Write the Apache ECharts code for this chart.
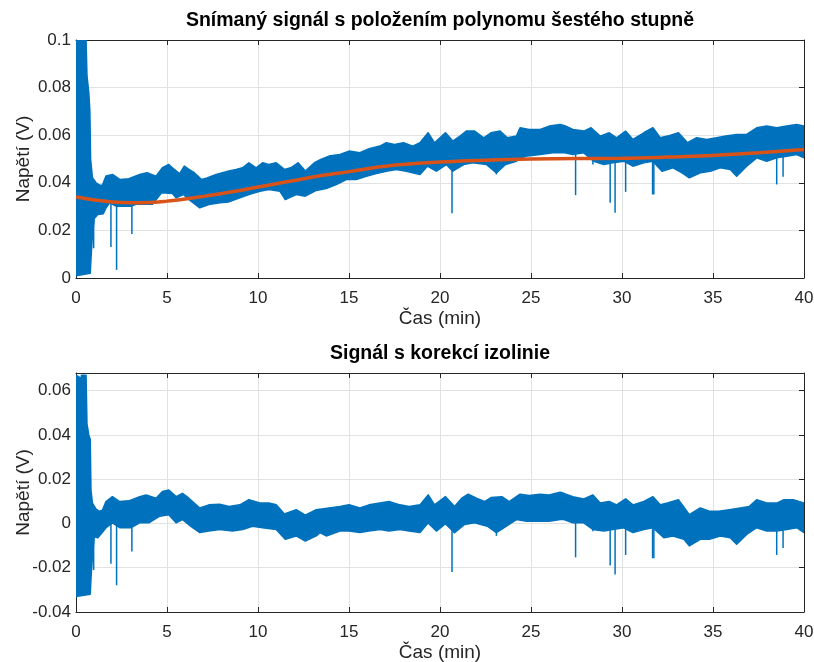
<!DOCTYPE html>
<html>
<head>
<meta charset="utf-8">
<script src="https://cdn.jsdelivr.net/npm/echarts@6/dist/echarts.min.js"></script>
<style>html,body{margin:0;padding:0;background:#fff}#c{width:814px;height:662px}</style>
</head>
<body>
<div id="c"></div>
<script>
// ---------- Data ----------
const xTicks = [0, 5, 10, 15, 20, 25, 30, 35, 40];
const y1Ticks = [0, 0.02, 0.04, 0.06, 0.08, 0.1];
const y2Ticks = [-0.04, -0.02, 0, 0.02, 0.04, 0.06];

// Raw signal, upper envelope (top panel)
const rawUpT = [0,0.2,0.25,0.3,0.55,0.6,0.7,0.76,0.8,0.9,1.1,1.3,1.45,1.65,2.0,2.4,2.9,3.5,3.9,4.4,4.75,5.1,5.4,5.7,5.95,6.2,6.5,6.9,7.2,7.7,8.05,8.4,8.8,9.15,9.5,9.9,10.25,10.6,11.0,11.45,11.8,12.2,12.6,13.1,13.45,13.9,14.5,15.0,15.6,16.1,16.7,17.05,17.5,18.0,18.5,18.9,19.35,19.7,20.3,20.7,21.1,21.45,21.9,22.4,22.8,23.3,23.7,24.2,24.4,24.9,25.5,26.0,26.6,26.85,27.3,27.9,28.3,28.8,29.3,29.7,30.2,30.6,31.2,31.7,32.1,32.5,33.1,33.6,34.1,34.65,35.2,35.7,36.3,36.85,37.4,37.95,38.5,39.05,39.6,40];
const rawUpV = [0.1,0.1,0.096,0.1,0.1,0.085,0.078,0.07,0.05,0.0421,0.04,0.039,0.039,0.0428,0.0435,0.0414,0.0417,0.0435,0.0442,0.0428,0.0463,0.0477,0.0456,0.0438,0.047,0.0456,0.0442,0.0414,0.042,0.0435,0.0442,0.0449,0.0456,0.0463,0.0484,0.0463,0.0484,0.0477,0.0484,0.0456,0.0463,0.0484,0.0449,0.0484,0.0498,0.0512,0.0519,0.0533,0.0526,0.0543,0.0554,0.0568,0.0561,0.0568,0.0554,0.0568,0.061,0.0568,0.061,0.0575,0.0596,0.0617,0.0617,0.0589,0.061,0.0617,0.0589,0.0596,0.0631,0.0624,0.0624,0.0638,0.0645,0.064,0.0624,0.0617,0.0631,0.0596,0.061,0.0589,0.0617,0.0582,0.061,0.0631,0.0589,0.0596,0.061,0.0568,0.0589,0.0582,0.0589,0.0596,0.0603,0.0603,0.0631,0.0638,0.0631,0.0638,0.0645,0.0638];
// Raw signal, lower envelope (top panel)
const rawLoT = [0,0.78,0.82,0.9,1.0,1.2,1.5,1.65,1.85,2.2,3.0,3.3,4.2,4.7,5.3,5.5,5.9,6.2,6.8,7.3,7.9,8.4,9.0,9.5,10.1,10.6,11.2,11.5,12.1,12.6,13.2,13.75,14.3,14.85,15.4,15.95,16.5,17.05,17.6,18.15,18.9,19.3,19.8,20.35,20.7,21.3,21.8,22.55,23.1,23.6,24.2,24.7,25.5,26.2,26.85,27.3,27.9,28.45,29.0,29.5,30.1,30.6,31.2,31.7,32.2,32.8,33.3,33.7,34.3,34.85,35.4,35.95,36.3,36.85,37.4,37.95,38.5,39.05,39.6,40];
const rawLoV = [0.001,0.002,0.008,0.018,0.025,0.0267,0.027,0.0295,0.0316,0.0302,0.0302,0.031,0.031,0.0358,0.0355,0.0337,0.0351,0.033,0.0295,0.0309,0.0316,0.032,0.0337,0.0351,0.0365,0.0372,0.0365,0.033,0.0351,0.0344,0.0368,0.0376,0.0393,0.0414,0.0414,0.0428,0.0439,0.0449,0.0456,0.0449,0.0435,0.047,0.0449,0.0477,0.0449,0.0477,0.0484,0.0477,0.0442,0.0477,0.0491,0.0512,0.0519,0.0526,0.0526,0.0519,0.0526,0.0491,0.0477,0.0484,0.0491,0.047,0.0484,0.0491,0.0449,0.0463,0.0442,0.0421,0.0442,0.0449,0.0463,0.0456,0.0428,0.047,0.0505,0.0491,0.0505,0.0512,0.0519,0.0505];
// Raw signal, isolated downward spikes: time, bottom, top
const rawSpikeT = [0.97,1.92,2.23,3.07,20.66,23.1,27.45,28.4,29.35,29.62,30.2,31.68,31.75,38.5,38.85];
const rawSpikeLo = [0.0125,0.013,0.0034,0.0185,0.0272,0.0435,0.0348,0.0477,0.0316,0.0274,0.0362,0.0351,0.0351,0.0393,0.0425];
const rawSpikeHi = [0.035,0.034,0.034,0.034,0.048,0.05,0.054,0.054,0.052,0.052,0.052,0.052,0.052,0.054,0.054];

// 6th-order polynomial baseline (orange)
const polyT = [0,1,2,3,4,5,6,7,8,9,10,11,12,13,15,17,20,22.5,25,27.5,30,32.5,35,37.5,40];
const polyV = [0.0340,0.0328,0.0319,0.0316,0.0317,0.0323,0.0332,0.0343,0.0355,0.0368,0.0382,0.0396,0.0410,0.0424,0.0447,0.0470,0.0487,0.0495,0.0500,0.0502,0.0503,0.0508,0.0515,0.0526,0.0540];

// Corrected signal, upper envelope (bottom panel)
const corUpT = [0,0.2,0.25,0.3,0.55,0.6,0.7,0.78,0.82,0.9,1.1,1.3,1.45,1.65,2.0,2.4,2.9,3.5,3.85,4.4,4.75,5.1,5.5,5.85,6.2,6.8,7.3,7.9,8.4,9.0,9.5,10.1,10.6,11.0,11.45,12.1,12.6,13.2,13.9,14.5,15.0,15.6,16.1,16.7,17.2,17.8,18.3,18.9,19.35,19.7,20.3,20.8,21.2,21.55,22.0,22.45,22.8,23.4,23.8,24.4,24.9,25.5,26.0,26.6,26.8,27.3,27.9,28.4,28.8,29.3,29.7,30.2,30.6,31.2,31.7,32.1,32.5,33.1,33.7,34.3,34.8,35.3,35.9,36.5,37.0,37.4,37.95,38.5,38.9,39.4,40];
const corUpV = [0.067,0.066,0.062,0.067,0.067,0.045,0.04,0.038,0.015,0.0092,0.0065,0.0055,0.006,0.0099,0.0121,0.0099,0.0102,0.0121,0.0129,0.0114,0.0144,0.0151,0.0121,0.0136,0.0114,0.007,0.0084,0.0087,0.0077,0.0084,0.0107,0.0092,0.0092,0.0084,0.0043,0.0062,0.0037,0.0062,0.007,0.0077,0.0084,0.007,0.0084,0.0092,0.0099,0.0084,0.0077,0.0084,0.0129,0.0084,0.0121,0.0077,0.0114,0.0132,0.0114,0.0099,0.0117,0.0121,0.0099,0.0132,0.0126,0.0132,0.0129,0.0141,0.0136,0.0121,0.0111,0.0129,0.0092,0.0099,0.0084,0.0111,0.0084,0.0099,0.0121,0.0084,0.0092,0.0107,0.004,0.007,0.0055,0.0055,0.0062,0.007,0.0077,0.0107,0.0092,0.0092,0.0107,0.0107,0.0092];
// Corrected signal, lower envelope (bottom panel)
const corLoT = [0,0.78,0.82,0.9,1.0,1.2,1.65,2.0,2.4,3.0,3.5,4.0,4.6,5.1,5.5,5.85,6.3,6.8,7.3,7.9,8.6,9.15,9.7,10.25,11.0,11.5,12.1,12.6,13.2,13.4,13.75,14.5,15.0,15.6,16.1,16.7,17.2,17.8,18.3,18.9,19.35,19.8,20.3,20.8,21.35,21.9,22.6,23.1,23.65,24.2,24.75,25.5,26.0,26.6,26.8,27.3,27.9,28.4,29.0,29.5,30.1,30.6,31.2,31.7,32.3,32.8,33.4,33.7,34.3,34.8,35.4,35.95,36.3,36.85,37.4,37.95,38.5,39.05,39.6,40];
const corLoV = [-0.033,-0.032,-0.025,-0.015,-0.006,-0.0064,-0.0019,0.0003,-0.0019,-0.0019,0.0003,0.0003,0.0033,0.004,0.0003,0.0018,-0.0012,-0.0041,-0.0034,-0.0027,-0.0034,-0.0027,-0.0012,-0.0019,-0.0027,-0.0071,-0.0056,-0.0079,-0.0056,-0.0041,-0.0056,-0.0034,-0.0034,-0.0041,-0.0034,-0.0027,-0.0034,-0.0027,-0.0034,-0.0041,0.0003,-0.0034,-0.0001,-0.0041,-0.0004,0.0003,-0.0012,-0.0041,-0.0012,0.0018,0.001,0.001,0.001,0.0018,0.0018,0.0003,0.0003,-0.0027,-0.0034,-0.0027,-0.0019,-0.0041,-0.0027,-0.0019,-0.0064,-0.0056,-0.0071,-0.0101,-0.0071,-0.0071,-0.0056,-0.0064,-0.0093,-0.0049,-0.0019,-0.0034,-0.0034,-0.0027,-0.0019,-0.0041];
// Corrected signal, spikes: time, bottom, top
const corSpikeT = [0.97,1.92,2.23,3.07,20.66,23.1,27.45,28.4,29.35,29.62,30.2,31.68,31.75,38.5,38.85];
const corSpikeLo = [-0.021,-0.0182,-0.0279,-0.0127,-0.0219,-0.0056,-0.0153,-0.0035,-0.019,-0.0231,-0.0142,-0.0157,-0.0157,-0.0142,-0.0111];
const corSpikeHi = [0.002,0.004,0.004,0.004,0.002,0.004,0.006,0.006,0.004,0.004,0.004,0.004,0.004,0.004,0.004];

// ---------- Styles ----------
const BLUE = '#0072BD', ORANGE = '#D95319', AX = '#262626', GRID = '#e2e2e2';
const FONT = '"Liberation Sans", Arial, sans-serif';

function bandSeries(xi, yi, upT, upV, loT, loV) {
  return {
    type: 'custom', xAxisIndex: xi, yAxisIndex: yi, silent: true, clip: true, z: 2,
    data: [[upT[0], upV[0]]],
    renderItem: function (params, api) {
      const pts = [];
      for (let i = 0; i < upT.length; i++) pts.push(api.coord([upT[i], upV[i]]));
      for (let i = loT.length - 1; i >= 0; i--) pts.push(api.coord([loT[i], loV[i]]));
      return { type: 'polygon', shape: { points: pts },
        style: { fill: BLUE, stroke: BLUE, lineWidth: 1.6, lineJoin: 'round' } };
    }
  };
}
function spikeSeries(xi, yi, T, Lo, Hi) {
  return {
    type: 'custom', xAxisIndex: xi, yAxisIndex: yi, silent: true, clip: true, z: 3,
    data: T.map((t, i) => [t, Lo[i], Hi[i]]),
    renderItem: function (params, api) {
      const a = api.coord([api.value(0), api.value(1)]);
      const b = api.coord([api.value(0), api.value(2)]);
      return { type: 'line', shape: { x1: a[0], y1: a[1], x2: b[0], y2: b[1] },
        style: { stroke: BLUE, lineWidth: 1.5 } };
    }
  };
}
function xAxisMain(gi) {
  return {
    gridIndex: gi, type: 'value', min: xTicks[0], max: xTicks[xTicks.length - 1], interval: 5,
    position: 'bottom', name: 'Čas (min)', nameLocation: 'middle', nameGap: 31, nameMoveOverlap: false,
    nameTextStyle: { fontFamily: FONT, fontSize: 19, color: AX },
    axisLine: { onZero: false, lineStyle: { color: AX, width: 1 } },
    axisTick: { inside: true, length: 5, lineStyle: { color: AX } },
    axisLabel: { fontFamily: FONT, fontSize: 17, color: AX, margin: 12 },
    splitLine: { show: true, lineStyle: { color: GRID, width: 1 } }
  };
}
function xAxisTop(gi) {
  return {
    gridIndex: gi, type: 'value', min: xTicks[0], max: xTicks[xTicks.length - 1], interval: 5,
    position: 'top',
    axisLine: { onZero: false, lineStyle: { color: AX, width: 1 } },
    axisTick: { inside: true, length: 5, lineStyle: { color: AX } },
    axisLabel: { show: false }, splitLine: { show: false }
  };
}
function yAxisMain(gi, ticks, max) {
  return {
    gridIndex: gi, type: 'value', min: ticks[0], max: max, interval: 0.02,
    position: 'left', name: 'Napětí (V)', nameLocation: 'middle', nameGap: 43, nameMoveOverlap: false,
    nameTextStyle: { fontFamily: FONT, fontSize: 19, color: AX },
    axisLine: { onZero: false, lineStyle: { color: AX, width: 1 } },
    axisTick: { inside: true, length: 5, lineStyle: { color: AX } },
    axisLabel: { fontFamily: FONT, fontSize: 17, color: AX, margin: 5, showMaxLabel: max === ticks[ticks.length - 1] },
    splitLine: { show: true, lineStyle: { color: GRID, width: 1 } }
  };
}
function yAxisRight(gi, ticks, max) {
  return {
    gridIndex: gi, type: 'value', min: ticks[0], max: max, interval: 0.02,
    position: 'right',
    axisLine: { onZero: false, lineStyle: { color: AX, width: 1 } },
    axisTick: { inside: true, length: 5, lineStyle: { color: AX } },
    axisLabel: { show: false }, splitLine: { show: false }
  };
}

const chart = echarts.init(document.getElementById('c'), null, { renderer: 'canvas' });
chart.setOption({
  animation: false,
  backgroundColor: '#ffffff',
  title: [
    { text: 'Snímaný signál s položením polynomu šestého stupně', left: 440, top: 11, padding: 0, textAlign: 'center',
      textStyle: { fontFamily: FONT, fontSize: 19.5, fontWeight: 'bold', color: '#000' } },
    { text: 'Signál s korekcí izolinie', left: 440, top: 344, padding: 0, textAlign: 'center',
      textStyle: { fontFamily: FONT, fontSize: 19.5, fontWeight: 'bold', color: '#000' } }
  ],
  grid: [
    { left: 76, top: 40, width: 728, height: 238, outerBoundsMode: 'none', containLabel: false },
    { left: 76, top: 373, width: 728, height: 239, outerBoundsMode: 'none', containLabel: false }
  ],
  xAxis: [xAxisMain(0), xAxisTop(0), xAxisMain(1), xAxisTop(1)],
  yAxis: [yAxisMain(0, y1Ticks, 0.1), yAxisRight(0, y1Ticks, 0.1), yAxisMain(1, y2Ticks, 0.068), yAxisRight(1, y2Ticks, 0.068)],
  series: [
    bandSeries(0, 0, rawUpT, rawUpV, rawLoT, rawLoV),
    spikeSeries(0, 0, rawSpikeT, rawSpikeLo, rawSpikeHi),
    { type: 'line', xAxisIndex: 0, yAxisIndex: 0, data: polyT.map((t, i) => [t, polyV[i]]),
      smooth: 0.4, showSymbol: false, symbol: 'none', z: 5,
      lineStyle: { color: ORANGE, width: 3.5 } },
    bandSeries(2, 2, corUpT, corUpV, corLoT, corLoV),
    spikeSeries(2, 2, corSpikeT, corSpikeLo, corSpikeHi)
  ]
});
</script>
</body>
</html>
